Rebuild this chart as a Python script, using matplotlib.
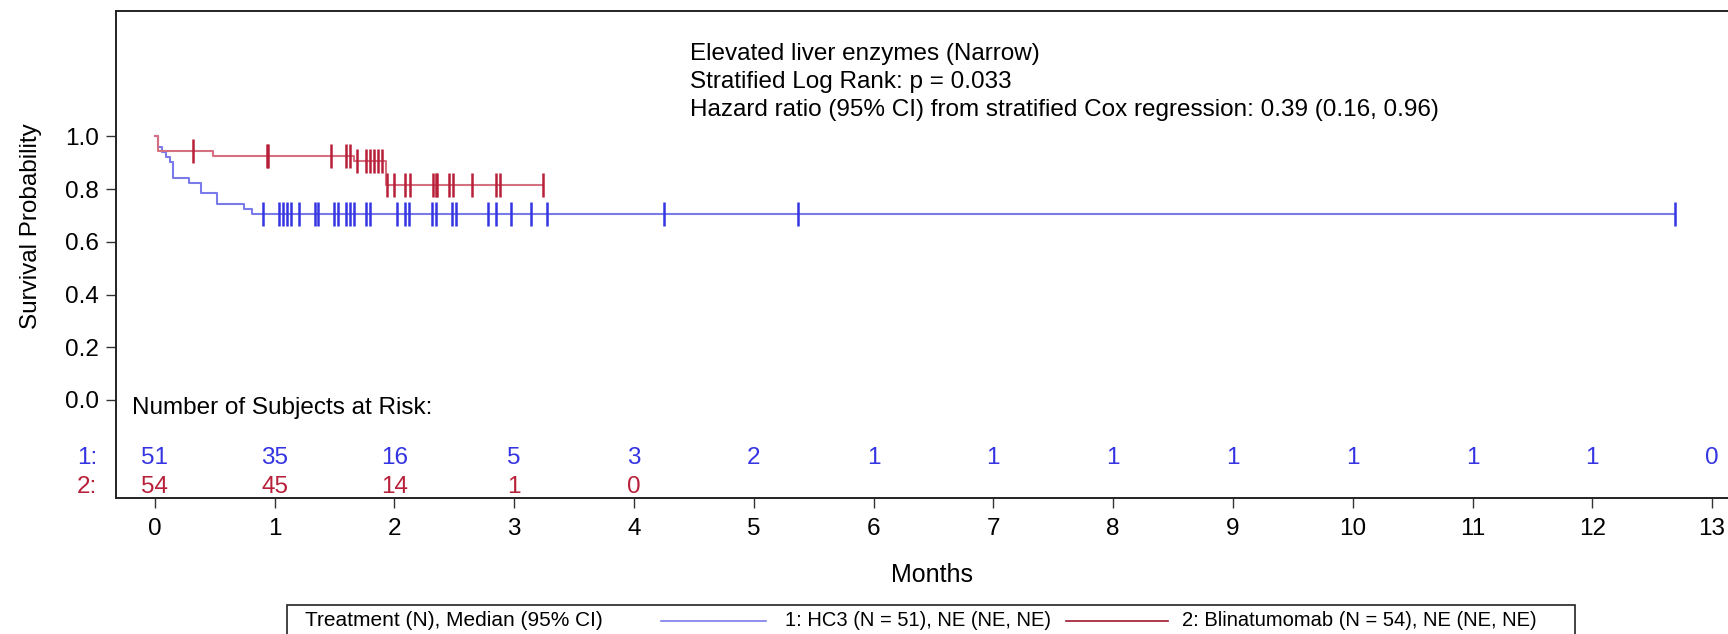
import numpy as np
import matplotlib.pyplot as plt
from matplotlib.patches import Rectangle
from matplotlib.lines import Line2D

plt.rcParams['font.family'] = ['Liberation Sans', 'DejaVu Sans']

# ---- data ----
# HC3 arm: step times (months) and survival after each step
hc3_times = [0.0, 0.025, 0.058, 0.092, 0.125, 0.155, 0.287, 0.384, 0.518, 0.749, 0.814]
hc3_surv = [1.0, 0.961, 0.941, 0.922, 0.902, 0.843, 0.824, 0.784, 0.745, 0.725, 0.706]
hc3_end = 12.69
hc3_cens = [0.908, 1.036, 1.07, 1.103, 1.137, 1.203, 1.334, 1.367, 1.498, 1.532,
            1.597, 1.629, 1.663, 1.76, 1.794, 2.025, 2.091, 2.125, 2.317, 2.351,
            2.484, 2.517, 2.782, 2.846, 2.977, 3.141, 3.272, 4.254, 5.372, 12.69]

# Blinatumomab arm
blin_times = [0.0, 0.025, 0.485, 1.666, 1.93]
blin_surv = [1.0, 0.944, 0.925, 0.905, 0.815]
blin_end = 3.245
blin_cens = [0.32, 0.935, 0.945, 1.468, 1.6, 1.63, 1.69, 1.76, 1.80, 1.83, 1.866,
             1.90, 1.935, 2.0, 2.09, 2.13, 2.32, 2.345, 2.355, 2.46, 2.49, 2.65,
             2.85, 2.88, 3.245]

risk_months = list(range(14))
risk_hc3 = [51, 35, 16, 5, 3, 2, 1, 1, 1, 1, 1, 1, 1, 0]
risk_blin = [54, 45, 14, 1, 0]

notes = ["Elevated liver enzymes (Narrow)",
         "Stratified Log Rank: p = 0.033",
         "Hazard ratio (95% CI) from stratified Cox regression: 0.39 (0.16, 0.96)"]

blue_line = '#7a7aea'
blue = '#3434e2'
red_line = '#d4707f'
red = '#b81f38'
fs = 17.5
legend_fs = 14.5

W, H = 1728, 634
fig = plt.figure(figsize=(W / 100, H / 100), dpi=100)


def fx(px):
    return px / W


def fy(py):
    return 1 - py / H


ax = fig.add_axes([fx(115.7), fy(498.3), fx(1745 - 115.7), (498.3 - 11) / H])


def surv_value(t, times, surv):
    idx = np.searchsorted(times, t, side='right') - 1
    return np.array(surv)[idx]


# survival curves
for times, surv, end, cens, lc, mc in [
        (hc3_times, hc3_surv, hc3_end, hc3_cens, blue_line, blue),
        (blin_times, blin_surv, blin_end, blin_cens, red_line, red)]:
    xs = list(times) + [end]
    ys = list(surv) + [surv[-1]]
    ax.step(xs, ys, where='post', color=lc, lw=1.5, zorder=3)
    ax.plot(cens, surv_value(cens, times, surv), ls='none', marker='|',
            ms=17, mew=1.8, color=mc, zorder=4)

ax.set_xlim((115.7 - 154.7) / 119.8, (1745 - 154.7) / 119.8)
ax.set_ylim(-98.3 / 263.7, 389 / 263.7)

ax.set_xticks(risk_months)
ax.set_yticks([0.0, 0.2, 0.4, 0.6, 0.8, 1.0])
ax.set_yticklabels(['0.0', '0.2', '0.4', '0.6', '0.8', '1.0'])
ax.tick_params(axis='both', labelsize=fs, length=7, width=1, direction='out',
               color='#333333')
ax.tick_params(axis='x', pad=7)
ax.tick_params(axis='y', pad=5)
for side in ['left', 'bottom', 'top']:
    ax.spines[side].set_linewidth(1.4)
    ax.spines[side].set_color('#222222')
ax.spines['right'].set_visible(False)

# annotations
for i, line in enumerate(notes):
    ax.text((690 - 154.7) / 119.8, (400 - 54 - i * 28) / 263.7, line,
            fontsize=fs, ha='left', va='center')

# number at risk
ax.text((131.7 - 154.7) / 119.8, (400 - 408.3) / 263.7,
        'Number of Subjects at Risk:', fontsize=fs, ha='left', va='center')
y1 = (400 - 458.3) / 263.7
y2 = (400 - 486.7) / 263.7
for m, n in zip(risk_months, risk_hc3):
    ax.text(m, y1, str(n), color=blue, fontsize=fs, ha='center', va='center')
for m, n in zip(risk_months, risk_blin):
    ax.text(m, y2, str(n), color=red, fontsize=fs, ha='center', va='center')
fig.text(fx(97), fy(458.3), '1:', color=blue, fontsize=fs, ha='right', va='center')
fig.text(fx(97), fy(486.7), '2:', color=red, fontsize=fs, ha='right', va='center')

fig.text(fx(31), fy(226), 'Survival Probability', fontsize=fs, rotation=90,
         ha='center', va='center')
fig.text(fx(932), fy(575), 'Months', fontsize=18, ha='center', va='center')

# legend box at the bottom
fig.patches.append(Rectangle((fx(287.3), fy(645)), fx(1575 - 287.3), (645 - 605) / H,
                             transform=fig.transFigure, fill=False,
                             edgecolor='#222222', lw=1.2))
ly = 621
fig.text(fx(305), fy(ly), 'Treatment (N), Median (95% CI)', fontsize=15,
         ha='left', va='center')
fig.lines.append(Line2D([fx(661), fx(766)], [fy(ly), fy(ly)], color=blue_line,
                        lw=1.2, transform=fig.transFigure))
fig.text(fx(785), fy(ly), '1: HC3 (N = 51), NE (NE, NE)', fontsize=legend_fs,
         ha='left', va='center')
fig.lines.append(Line2D([fx(1066), fx(1168)], [fy(ly), fy(ly)], color='#a01830',
                        lw=1.2, transform=fig.transFigure))
fig.text(fx(1182), fy(ly), '2: Blinatumomab (N = 54), NE (NE, NE)',
         fontsize=legend_fs, ha='left', va='center')

fig.savefig('out.png', dpi=100)
